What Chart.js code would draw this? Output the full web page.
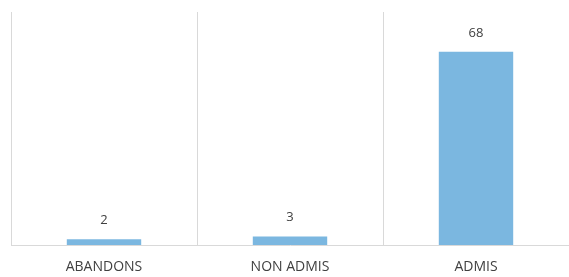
<!DOCTYPE html>
<html>
<head>
<meta charset="utf-8">
<script src="https://cdn.jsdelivr.net/npm/chart.js@4/dist/chart.umd.min.js"></script>
<style>
    html, body { margin: 0; padding: 0; background: #fff; }
    #wrap { width: 569px; height: 277px; position: relative; }
</style>
</head>
<body>
<div id="wrap"><canvas id="resultsChart"></canvas></div>
<script>
const categories = ['ABANDONS', 'NON ADMIS', 'ADMIS'];
const counts = [2, 3, 68];

const FONT = '"Open Sans", "Noto Sans", sans-serif';

// value labels above each bar
const valueLabels = {
    id: 'valueLabels',
    afterDatasetsDraw(chart) {
        const ctx = chart.ctx;
        const meta = chart.getDatasetMeta(0);
        ctx.save();
        ctx.font = '13px ' + FONT;
        ctx.fillStyle = '#404040';
        ctx.textAlign = 'center';
        ctx.textBaseline = 'alphabetic';
        meta.data.forEach((bar, i) => {
            ctx.fillText(String(counts[i]), bar.x, bar.y - 15);
        });
        ctx.restore();
    }
};

new Chart(document.getElementById('resultsChart').getContext('2d'), {
    type: 'bar',
    data: {
        labels: categories,
        datasets: [{
            data: counts,
            backgroundColor: '#7BB7E0',
            categoryPercentage: 1,
            barPercentage: 0.4
        }]
    },
    options: {
        responsive: true,
        maintainAspectRatio: false,
        animation: false,
        layout: { padding: { left: 11, right: 0, top: 12, bottom: 0 } },
        plugins: {
            legend: { display: false },
            tooltip: { enabled: false }
        },
        scales: {
            x: {
                grid: { color: '#d9d9d9', offset: true, drawTicks: false },
                border: { color: '#d9d9d9' },
                ticks: { color: '#404040', font: { size: 14, family: FONT }, padding: 14 },
                afterFit(scale) { scale.height = 32; }
            },
            y: {
                display: false,
                min: 0,
                max: 82
            }
        }
    },
    plugins: [valueLabels]
});
</script>
</body>
</html>
